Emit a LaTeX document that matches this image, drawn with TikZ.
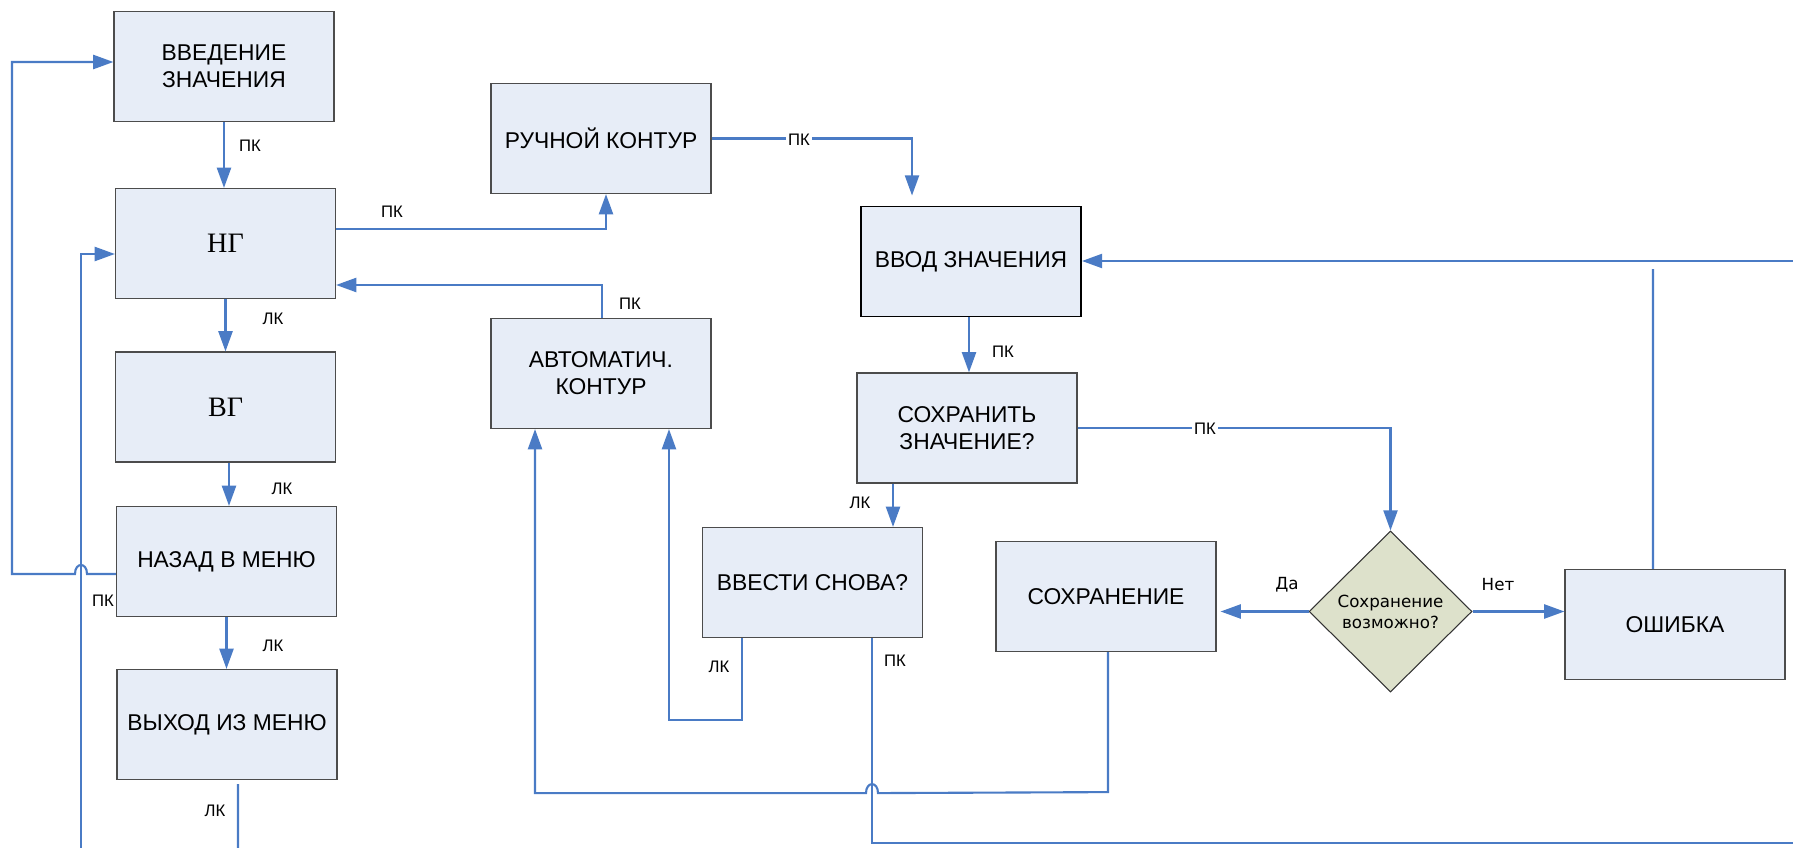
\documentclass[tikz,border=0pt]{standalone}
\usepackage{fontspec}
\setmainfont{Liberation Sans}
\newfontfamily\serifrm{Liberation Serif}
\newfontfamily\dejavu{DejaVu Sans}
\usetikzlibrary{arrows.meta,shapes.geometric,calc}
\definecolor{boxfill}{HTML}{E7EDF7}
\definecolor{decfill}{HTML}{DDE1CB}
\definecolor{linkblue}{HTML}{4A7BC5}
\tikzset{
  block/.style={draw=black!70, line width=0.7pt, fill=boxfill, minimum width=4.4cm,
    minimum height=2.2cm, inner sep=0pt, align=center, font=\fontsize{13}{15.5}\selectfont},
  bigletters/.style={font=\serifrm\fontsize{16}{19}\selectfont},
  decision/.style={diamond, draw=black!80, line width=0.6pt, fill=decfill, minimum width=3.26cm,
    minimum height=3.22cm, inner sep=0pt, align=center, font=\dejavu\fontsize{9.5}{12}\selectfont},
  link/.style={draw=linkblue, line width=1.2pt},
  arrow/.style={link, -{Triangle[length=11.5pt,width=8pt]}},
  key/.style={font=\fontsize{9.5}{11}\selectfont, inner sep=1pt},
  answer/.style={font=\dejavu\fontsize{9.5}{11}\selectfont, inner sep=1pt},
}
\begin{document}
\begin{tikzpicture}[x=0.02cm, y=-0.02cm]
    \useasboundingbox (0,0) rectangle (1793,848);

    % left column
    \node[block] (vvedenie) at (224,66.5) {ВВЕДЕНИЕ\\ЗНАЧЕНИЯ};
    \node[block, bigletters] (ng) at (225.5,243.5) {НГ};
    \node[block, bigletters] (vg) at (225.5,407) {ВГ};
    \node[block] (nazad) at (226.5,561.5) {НАЗАД В МЕНЮ};
    \node[block] (vyhod) at (227,724.5) {ВЫХОД ИЗ МЕНЮ};

    % middle column
    \node[block] (ruchnoj) at (601,138.5) {РУЧНОЙ КОНТУР};
    \node[block] (avtomat) at (601,373.5) {АВТОМАТИЧ.\\КОНТУР};
    \node[block] (vvesti) at (812.5,582.5) {ВВЕСТИ СНОВА?};

    % right part
    \node[block, draw=black, line width=1.1pt] (vvod) at (971,261.5) {ВВОД ЗНАЧЕНИЯ};
    \node[block] (sohranit) at (967,428) {СОХРАНИТЬ\\ЗНАЧЕНИЕ?};
    \node[block] (sohranenie) at (1106,596.5) {СОХРАНЕНИЕ};
    \node[decision] (vozmozhno) at (1390.5,611.5) {Сохранение\\возможно?};
    \node[block] (oshibka) at (1675,624.5) {ОШИБКА};

    % loose ends
    \coordinate (leftend) at (81,848);
    \coordinate (downend) at (238,848);
    \coordinate (toprightend) at (1793,261);
    \coordinate (botrightend) at (1793,843);
    \coordinate (errend) at (1653,269);

    % left column links
    \draw[arrow] (vvedenie.south) -- (vvedenie.south |- ng.north);
    \node[key] (k1) at (250,146) {ПК};
    \draw[arrow] (ng.south) -- (ng.south |- vg.north);
    \node[key] (k2) at (273,319) {ЛК};
    \draw[arrow] ([xshift=0.07cm]vg.south) -- ([xshift=0.07cm]vg.south |- nazad.north);
    \node[key] (k3) at (282,489) {ЛК};
    \draw[arrow] (nazad.south) -- (nazad.south |- vyhod.north);
    \node[key] (k4) at (273,646) {ЛК};
    \draw[link] ([xshift=0.22cm, yshift=-0.08cm]vyhod.south) -- (downend);
    \node[key] (k5) at (215,811) {ЛК};

    % back to the top, hopping over the long line
    \draw[arrow] ([yshift=-0.25cm]nazad.west) coordinate (hopA)
      -- ([xshift=0.12cm]leftend |- hopA) .. controls +(0,-12) and +(0,-12) .. ++(-12,0)
      -- ++(-63,0) |- ([yshift=0.09cm]vvedenie.west);
    \node[key] (k6) at (103,601) {ПК};
    \draw[arrow] (leftend) |- ([yshift=-0.21cm]ng.west);

    % middle links
    \draw[arrow] ([yshift=0.29cm]ng.east) -| ([xshift=0.1cm]ruchnoj.south);
    \node[key] (k7) at (392,212) {ПК};
    \draw[arrow] ([xshift=0.02cm]avtomat.north) |- ([yshift=-0.83cm]ng.east);
    \node[key] (k8) at (630,304) {ПК};
    \draw[arrow, shorten >=0.2cm] (ruchnoj.east) -| ([xshift=-1.18cm]vvod.north);
    \node[key, fill=white] (k9) at (799,140) {ПК};

    % right links
    \draw[arrow] ([xshift=-0.04cm]vvod.south) -- ([xshift=-0.04cm]vvod.south |- sohranit.north);
    \node[key] (k10) at (1003,352) {ПК};
    \draw[arrow] (sohranit.east) -| (vozmozhno.north);
    \node[key, fill=white] (k11) at (1205,429) {ПК};
    \draw[arrow] ([xshift=-1.48cm]sohranit.south) -- ([xshift=-1.48cm]sohranit.south |- vvesti.north);
    \node[key] (k12) at (860,503) {ЛК};
    \draw[arrow] ([xshift=-1.41cm]vvesti.south) -- ++(0,82) -| ([xshift=1.36cm]avtomat.south);
    \node[key] (k13) at (719,667) {ЛК};
    \draw[link] ([xshift=1.19cm]vvesti.south) |- (botrightend);
    \node[key] (k14) at (895,661) {ПК};
    \draw[arrow] ([xshift=0.04cm]sohranenie.south) -- ++(0,140)
      -- ($(vvesti.south)+(65.5,155)$) .. controls +(0,-12) and +(0,-12) .. ++(-12,0)
      -| ([xshift=-1.32cm]avtomat.south);

    % decision
    \draw[arrow, shorten >=0.08cm] (vozmozhno.west) -- (vozmozhno.west -| sohranenie.east);
    \node[answer] (k15) at (1287,585) {Да};
    \draw[arrow] (vozmozhno.east) -- (vozmozhno.east -| oshibka.west);
    \node[answer] (k16) at (1498,585) {Нет};
    \draw[link] ([xshift=-0.44cm]oshibka.north) -- (errend);
    \draw[arrow] (toprightend) -- (toprightend -| vvod.east);
\end{tikzpicture}
\end{document}
